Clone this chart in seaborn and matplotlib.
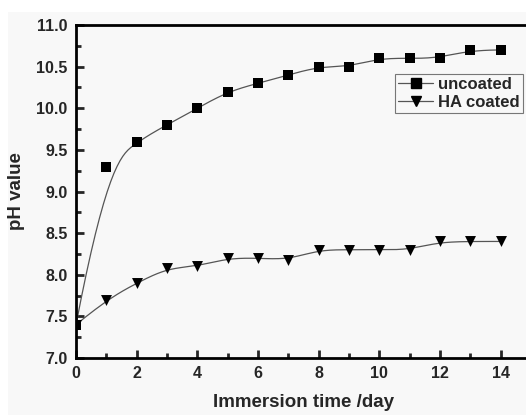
import numpy as np
import pandas as pd
import matplotlib
matplotlib.use("Agg")
import matplotlib.pyplot as plt
from matplotlib.lines import Line2D
from matplotlib.patches import Rectangle
from matplotlib.ticker import MultipleLocator
import seaborn as sns

days = [0, 1, 2, 3, 4, 5, 6, 7, 8, 9, 10, 11, 12, 13, 14]
uncoated = [7.4, 9.3, 9.6, 9.8, 10.0, 10.2, 10.3, 10.4, 10.5, 10.5, 10.6, 10.6, 10.6, 10.7, 10.7]
ha_coated = [7.4, 7.7, 7.9, 8.08, 8.1, 8.2, 8.2, 8.18, 8.3, 8.3, 8.3, 8.3, 8.4, 8.4, 8.4]
series_names = ["uncoated", "HA coated"]
x_ticks = [0, 2, 4, 6, 8, 10, 12, 14]
y_ticks = [7.0, 7.5, 8.0, 8.5, 9.0, 9.5, 10.0, 10.5, 11.0]


def bspline(x, y, k=3, num=400):
    x = np.asarray(x, float)
    y = np.asarray(y, float)
    n = len(x)
    t = np.concatenate([np.zeros(k), np.linspace(0, 1, n - k + 1), np.ones(k)])
    u = np.linspace(0, 1, num)
    B = np.zeros((num, len(t) - 1))
    for i in range(len(t) - 1):
        B[:, i] = ((t[i] <= u) & (u < t[i + 1])).astype(float)
    B[u >= 1.0, :] = 0
    B[u >= 1.0, n - 1] = 1.0
    for d in range(1, k + 1):
        Bn = np.zeros((num, len(t) - 1 - d))
        for i in range(len(t) - 1 - d):
            den1 = t[i + d] - t[i]
            den2 = t[i + d + 1] - t[i + 1]
            left = (u - t[i]) / den1 if den1 > 0 else 0.0
            right = (t[i + d + 1] - u) / den2 if den2 > 0 else 0.0
            Bn[:, i] = left * B[:, i] + right * B[:, i + 1]
        B = Bn
    return B @ x, B @ y


sns.set_style("ticks")
plt.rcParams["font.family"] = ["Liberation Sans", "DejaVu Sans"]
plt.rcParams["font.weight"] = "bold"

W, H = 526, 415
fig = plt.figure(figsize=(W / 100, H / 100), dpi=100)
fig.patch.set_facecolor("white")
fig.patches.append(Rectangle((8 / W, 0), 1, 1 - 12 / H, transform=fig.transFigure,
                             facecolor="#f8f8f8", edgecolor="none", zorder=-10))

ax = fig.add_axes([76 / W, 57 / H, 455 / W, 333 / H])
ax.set_facecolor("#f8f8f8")

line_color = "#555555"
markers = ["s", "v"]
for name, vals, mk in zip(series_names, [uncoated, ha_coated], markers):
    sx, sy = bspline(days, vals)
    sns.lineplot(x=sx, y=sy, ax=ax, color=line_color, linewidth=0.9, sort=False,
                 estimator=None, zorder=2)
    df = pd.DataFrame({"day": days, "ph": vals})
    sns.scatterplot(data=df, x="day", y="ph", ax=ax, marker=mk, color="black",
                    s=52 if mk == "s" else 62, edgecolor="black", linewidth=0, zorder=3)

ax.set_xlim(0, 15)
ax.set_ylim(7.0, 11.0)
ax.set_xticks(x_ticks)
ax.set_yticks(y_ticks)
ax.set_xticklabels([str(v) for v in x_ticks])
ax.set_yticklabels([f"{v:.1f}" for v in y_ticks])
ax.xaxis.set_minor_locator(MultipleLocator(1))
ax.yaxis.set_minor_locator(MultipleLocator(0.25))
ax.tick_params(which="major", direction="in", length=6, width=2, labelsize=11.5, pad=6)
ax.tick_params(which="minor", direction="in", length=3.5, width=2)
ax.tick_params(top=False, right=False)
for lbl in ax.get_xticklabels() + ax.get_yticklabels():
    lbl.set_fontweight("bold")
for side in ["left", "bottom", "top"]:
    ax.spines[side].set_linewidth(2)
    ax.spines[side].set_color("black")
ax.spines["right"].set_visible(False)

ax.set_xlabel("Immersion time /day", fontsize=13.5, fontweight="bold", labelpad=9)
ax.set_ylabel("pH value", fontsize=13.5, fontweight="bold", labelpad=8)

handles = [Line2D([], [], color=line_color, linewidth=0.9, marker=m, markersize=7,
                  markerfacecolor="black", markeredgecolor="black") for m in markers]
leg = ax.legend(handles, series_names, loc="upper left", bbox_to_anchor=(319 / 455, 1 - 49 / 333),
                frameon=True, fancybox=False, edgecolor="#777777", framealpha=1,
                facecolor="#f8f8f8", fontsize=12, handlelength=2.1, handletextpad=0.3,
                borderpad=0.2, labelspacing=0.15, borderaxespad=0)
leg.get_frame().set_linewidth(0.8)
for t in leg.get_texts():
    t.set_fontweight("bold")

fig.savefig("out.png", dpi=100)
